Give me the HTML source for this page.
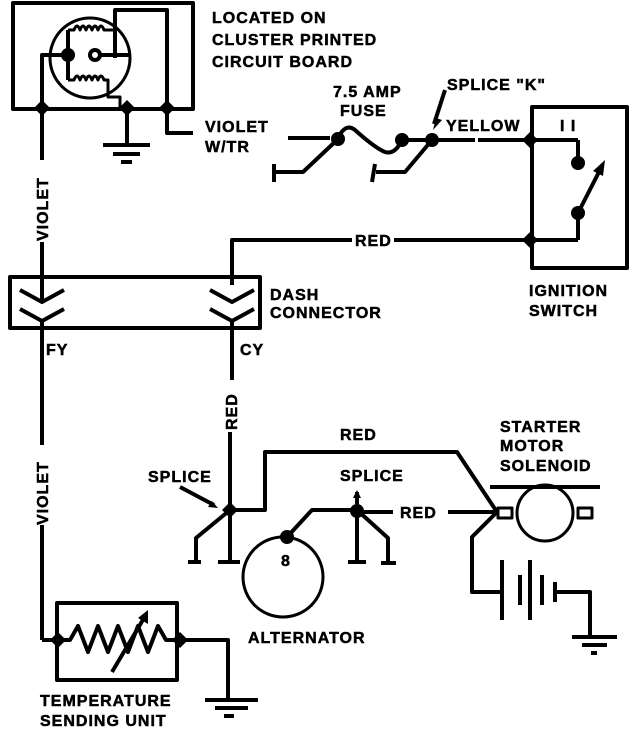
<!DOCTYPE html>
<html><head><style>
html,body{margin:0;padding:0;background:#fff}
svg{display:block}
text{font-family:"Liberation Sans",sans-serif;font-weight:bold;font-size:16px;fill:#000;letter-spacing:1px;stroke:#000;stroke-width:0.5px}
</style></head><body>
<svg width="640" height="732" viewBox="0 0 640 732" xmlns="http://www.w3.org/2000/svg">
<g stroke="#000" stroke-width="4" fill="none" stroke-linejoin="round">
<rect x="13" y="3" width="180" height="106"/>
<circle cx="90" cy="58" r="40" stroke-width="3"/>
<polyline points="115,58 115,10 167,10 167,108"/>
<polyline points="42,108 42,55 68,55"/>
<polyline points="68,30 68,80"/>
<path d="M68,30 h6 q3,-8 6,0 q3,-8 6,0 q3,-8 6,0 q3,-8 6,0 q3,-8 6,0 h10" stroke-width="3"/>
<path d="M68,80 h6 q3,-8 6,0 q3,-8 6,0 q3,-8 6,0 q3,-8 6,0 q3,-8 6,0 h4 v17 h12 v11" stroke-width="3"/>
<circle cx="95" cy="55" r="5"/>
<line x1="100" y1="55" x2="129" y2="55"/>
<polyline points="127,108 127,145"/>
<line x1="103" y1="145" x2="150" y2="145"/>
<line x1="113" y1="154" x2="140" y2="154"/>
<line x1="121" y1="162" x2="132" y2="162"/>
<polyline points="167,108 167,133 193,133"/>
<line x1="42" y1="108" x2="42" y2="160"/>
<line x1="42" y1="242" x2="42" y2="295"/>
<polyline points="288,138 330,138"/>
<polyline points="337,140 303,172 274,172"/>
<line x1="274" y1="164" x2="274" y2="182"/>
<path d="M337,140 Q345,122 355,130 Q375,148 385,152 Q395,155 402,140"/>
<line x1="402" y1="140" x2="475" y2="140"/>
<polyline points="432,140 405,172 376,172"/>
<line x1="375" y1="164" x2="372" y2="182"/>
<line x1="478" y1="140" x2="578" y2="140"/>
<polyline points="578,140 578,163"/>
<line x1="445" y1="90" x2="434" y2="124"/>
<rect x="532" y="107" width="95" height="161"/>
<polyline points="232,285 232,240 352,240"/>
<line x1="394" y1="240" x2="578" y2="240"/>
<polyline points="578,240 578,213"/>
<line x1="578" y1="213" x2="600" y2="170"/>
<rect x="10" y="277" width="250" height="51"/>
<polyline points="20,290 42,302 64,290"/>
<polyline points="20,309 42,321 64,309"/>
<polyline points="210,290 232,302 254,290"/>
<polyline points="210,309 232,321 254,309"/>
<line x1="42" y1="295" x2="42" y2="302"/>
<line x1="42" y1="321" x2="42" y2="445"/>
<line x1="42" y1="525" x2="42" y2="640"/>
<line x1="42" y1="640" x2="58" y2="640"/>
<line x1="232" y1="321" x2="232" y2="380"/>
<line x1="230" y1="432" x2="230" y2="562"/>
<rect x="57" y="603" width="120" height="77"/>
<polyline points="58,640 70,640 78,626 88,652 98,626 108,652 118,626 128,652 138,626 148,652 158,626 166,640 180,640"/>
<line x1="112" y1="672" x2="144" y2="618"/>
<polyline points="180,640 228,640 228,700"/>
<line x1="205" y1="700" x2="258" y2="700"/>
<line x1="215" y1="708" x2="248" y2="708"/>
<line x1="224" y1="716" x2="234" y2="716"/>
<line x1="180" y1="487" x2="214" y2="505"/>
<polyline points="230,510 265,510 265,452 457,452 497,512"/>
<line x1="218" y1="562" x2="240" y2="562"/>
<polyline points="230,510 196,538 196,562"/>
<line x1="188" y1="562" x2="201" y2="562"/>
<circle cx="283" cy="577" r="40" stroke-width="3"/>
<polyline points="287,537 312,510 357,510"/>
<line x1="357" y1="505" x2="357" y2="492"/>
<line x1="357" y1="512" x2="393" y2="512"/>
<line x1="448" y1="512" x2="495" y2="512"/>
<polyline points="357,510 357,562"/>
<line x1="348" y1="562" x2="366" y2="562"/>
<polyline points="357,510 388,538 388,563"/>
<line x1="381" y1="563" x2="396" y2="563"/>
<line x1="490" y1="487" x2="600" y2="487"/>
<circle cx="545" cy="513" r="28" stroke-width="3"/>
<rect x="498" y="508" width="14" height="10" stroke-width="3"/>
<rect x="578" y="508" width="14" height="10" stroke-width="3"/>
<polyline points="497,512 472,537 472,592 502,592"/>
<line x1="502" y1="560" x2="502" y2="620"/>
<line x1="520" y1="575" x2="520" y2="605"/>
<line x1="530" y1="560" x2="530" y2="620"/>
<line x1="542" y1="575" x2="542" y2="605"/>
<line x1="555" y1="582" x2="555" y2="602"/>
<polyline points="555,592 590,592 590,636"/>
<line x1="572" y1="637" x2="617" y2="637"/>
<line x1="582" y1="645" x2="607" y2="645"/>
<line x1="591" y1="653" x2="597" y2="653"/>
</g>
<g fill="#000">
<path d="M42,100 l8,8 -8,8 -8,-8z"/><path d="M127,100 l8,8 -8,8 -8,-8z"/><path d="M167,100 l8,8 -8,8 -8,-8z"/>
<circle cx="68" cy="55" r="7"/>
<circle cx="338" cy="139" r="7"/><circle cx="402" cy="140" r="7"/><circle cx="432" cy="140" r="7"/>
<path d="M530,132 l8,8 -8,8 -8,-8z"/><path d="M530,232 l8,8 -8,8 -8,-8z"/>
<circle cx="578" cy="163" r="7"/><circle cx="578" cy="213" r="7"/>
<path d="M605,160 l-2,16 -10,-5z"/>
<path d="M436,118 l6,2 -9,10z"/>
<path d="M218,508 l-10,-1 4,-6z"/>
<path d="M357,490 l4,8 -8,0z"/>
<path d="M230,502 l8,8 -8,8 -8,-8z"/>
<circle cx="287" cy="537" r="7"/><circle cx="357" cy="511" r="7"/>
<path d="M58,632 l8,8 -8,8 -8,-8z"/><path d="M180,632 l8,8 -8,8 -8,-8z"/>
<path d="M148,610 l0,14 -10,-6z"/>
</g>
<text x="212" y="23">LOCATED ON</text>
<text x="212" y="45">CLUSTER PRINTED</text>
<text x="212" y="67">CIRCUIT BOARD</text>
<text x="205" y="132">VIOLET</text>
<text x="205" y="152">W/TR</text>
<text x="333" y="97">7.5 AMP</text>
<text x="340" y="116">FUSE</text>
<text x="447" y="90">SPLICE "K"</text>
<text x="446" y="131">YELLOW</text>
<text x="560" y="131">I I</text>
<text x="355" y="246">RED</text>
<text x="529" y="296">IGNITION</text>
<text x="529" y="316">SWITCH</text>
<text x="270" y="300">DASH</text>
<text x="270" y="318">CONNECTOR</text>
<text x="46" y="355">FY</text>
<text x="240" y="355">CY</text>
<text transform="translate(48,241) rotate(-90)">VIOLET</text>
<text transform="translate(48,525) rotate(-90)">VIOLET</text>
<text transform="translate(237,430) rotate(-90)">RED</text>
<text x="340" y="440">RED</text>
<text x="148" y="482">SPLICE</text>
<text x="340" y="481">SPLICE</text>
<text x="400" y="518">RED</text>
<text x="281" y="566" font-size="12">8</text>
<text x="248" y="643">ALTERNATOR</text>
<text x="500" y="432">STARTER</text>
<text x="500" y="451">MOTOR</text>
<text x="500" y="471">SOLENOID</text>
<text x="40" y="706">TEMPERATURE</text>
<text x="40" y="726">SENDING UNIT</text>
</svg>
</body></html>
